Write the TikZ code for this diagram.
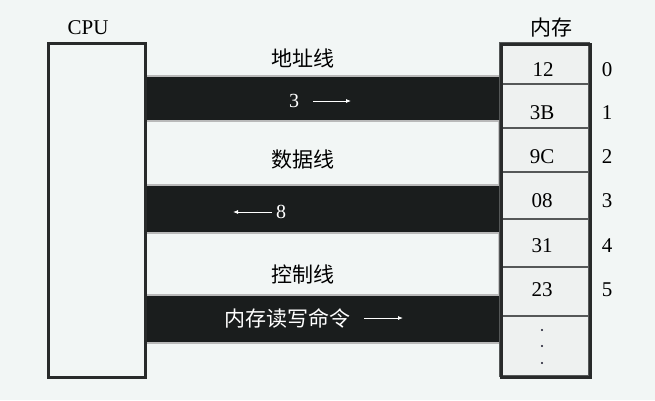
\documentclass[tikz,border=0pt]{standalone}
\usepackage{fontspec}
\setmainfont{Liberation Serif}
\newfontfamily\cjk{Noto Sans CJK SC}
\definecolor{bgc}{RGB}{242,246,245}
\definecolor{barc}{RGB}{26,29,29}
\definecolor{edgec}{RGB}{40,42,42}
\definecolor{cellc}{RGB}{238,241,240}
\definecolor{sepc}{RGB}{85,88,88}
\definecolor{dotc}{RGB}{20,20,40}
\tikzset{
  txt/.style={inner sep=0pt, font=\fontsize{21}{23}\selectfont},
  cjktxt/.style={inner sep=0pt, font=\fontsize{21}{23}\selectfont\cjk},
  wtxt/.style={inner sep=0pt, text=white, font=\fontsize{20}{22}\selectfont},
  wcjk/.style={inner sep=0pt, text=white, font=\fontsize{21}{23}\selectfont\cjk},
  busbar/.style={fill=barc, draw=gray!55, line width=1.2pt},
  gapbox/.style={fill=bgc, draw=gray!45, line width=1.2pt},
  warrow/.style={draw=white, line width=0.8pt, -{Latex[length=5pt,width=4pt]}},
  dotmark/.style={circle, fill=dotc, inner sep=0pt, minimum size=2.4pt},
}
\usetikzlibrary{arrows.meta}
\begin{document}
\begin{tikzpicture}[x=1pt,y=-1pt]
\useasboundingbox (0,0) rectangle (655,400);
\fill[bgc] (0,0) rectangle (655,400);
% white gaps
\draw[gapbox] (144,121) rectangle (499,185);
\draw[gapbox] (144,233) rectangle (499,295);
% bars
\draw[busbar] (144,76) rectangle (502,121);
\draw[busbar] (144,185) rectangle (502,233);
\draw[busbar] (144,295) rectangle (502,343);
% CPU
\node[draw=edgec, line width=3pt, fill=bgc, minimum width=97pt, minimum height=334pt, inner sep=0pt, anchor=north west] (cpu) at (47,42) {};
\node[txt] (cpulbl) at (88,28) {CPU};
% memory cells
\foreach \n/\a/\b in {c0/43/84, c1/84/128, c2/128/172, c3/172/219, c4/219/267, c5/267/316, c6/316/376}{
  \draw[sepc, line width=2.5pt, fill=cellc] (500,\a) rectangle (589,\b);
  \coordinate (\n) at (544.5,\a);
}
\node[draw=edgec, line width=3pt, minimum width=89pt, minimum height=333pt, inner sep=0pt, anchor=north west] (mem) at (500,43) {};
\node[cjktxt] (memlbl) at (551,28) {内存};
% values
\node[txt] (v0) at (543,70) {12};
\node[txt] (v1) at (542,113) {3B};
\node[txt] (v2) at (542,157) {9C};
\node[txt] (v3) at (542,201) {08};
\node[txt] (v4) at (542,246) {31};
\node[txt] (v5) at (542,290) {23};
\node[dotmark] (d1) at (542,330) {};
\node[dotmark] (d2) at (542,346) {};
\node[dotmark] (d3) at (542,363) {};
% indices
\node[txt] (i0) at (607,70) {0};
\node[txt] (i1) at (607,113) {1};
\node[txt] (i2) at (607,157) {2};
\node[txt] (i3) at (607,201) {3};
\node[txt] (i4) at (607,246) {4};
\node[txt] (i5) at (607,290) {5};
% bus labels
\node[cjktxt] (addr) at (303,58) {地址线};
\node[cjktxt] (data) at (303,160) {数据线};
\node[cjktxt] (ctrl) at (303,274) {控制线};
% bar texts and arrows
\node[wtxt] (n3) at (294,101) {3};
\coordinate (a3s) at (313,101);
\coordinate (a3e) at (351,101);
\draw[warrow] (a3s) -- (a3e);
\node[wtxt] (n8) at (281,212) {8};
\coordinate (a8s) at (272,212);
\coordinate (a8e) at (233,212);
\draw[warrow] (a8s) -- (a8e);
\node[wcjk] (cmd) at (287,318) {内存读写命令};
\coordinate (acs) at (364,318);
\coordinate (ace) at (403,318);
\draw[warrow] (acs) -- (ace);
\end{tikzpicture}
\end{document}
